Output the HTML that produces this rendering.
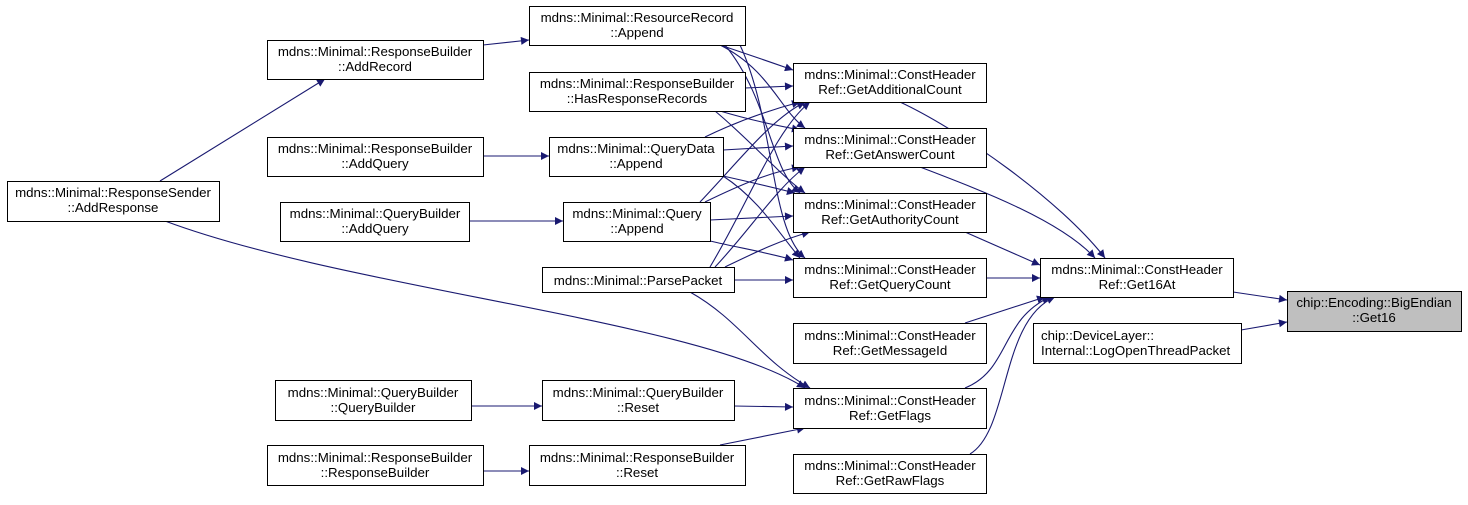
<!DOCTYPE html>
<html><head><meta charset="utf-8"><style>
body{margin:0;background:#fff;width:1468px;height:500px;overflow:hidden}
svg text{font-family:"Liberation Sans",Arial,sans-serif;font-size:13.3px;fill:#000}
</style></head><body>
<svg width="1468" height="500" viewBox="0 0 1468 500" xmlns="http://www.w3.org/2000/svg">
<defs><marker id="a" viewBox="0 0 10 10" refX="10" refY="5" markerWidth="10" markerHeight="8" markerUnits="userSpaceOnUse" orient="auto"><path d="M0,0L10,5L0,10z" fill="#191970"/></marker></defs>
<g fill="none" stroke="#191970" stroke-width="1.1" marker-end="url(#a)">
<path d="M160,181L325,79"/>
<path d="M483,45L529,40"/>
<path d="M483,156L549,156"/>
<path d="M469,221L563,221"/>
<path d="M471,406L542,406"/>
<path d="M483,471L529,471"/>
<path d="M165,221C350,290 700,320 805,388"/>
<path d="M690,292C740,320 760,360 810,388"/>
<path d="M734,406L793,407"/>
<path d="M720,445L805,428"/>
<path d="M720,45C750,55 770,62 793,70"/>
<path d="M745,88L793,86"/>
<path d="M705,137C740,120 770,110 800,102"/>
<path d="M700,202C740,160 770,120 805,102"/>
<path d="M710,267C750,200 775,130 810,102"/>
<path d="M720,45C770,70 780,110 805,128"/>
<path d="M720,111C750,120 775,125 800,130"/>
<path d="M723,150L793,146"/>
<path d="M705,202C740,185 770,172 800,167"/>
<path d="M715,267C750,230 775,190 805,167"/>
<path d="M725,45C770,100 770,170 800,193"/>
<path d="M715,111C750,140 780,175 805,193"/>
<path d="M723,176C750,182 775,188 795,193"/>
<path d="M710,220L793,216"/>
<path d="M725,267C750,255 780,240 810,232"/>
<path d="M740,45C775,120 770,230 805,258"/>
<path d="M723,176C760,200 780,235 800,258"/>
<path d="M710,241C740,248 770,253 793,260"/>
<path d="M734,280L793,280"/>
<path d="M900,102C960,130 1060,200 1105,258"/>
<path d="M920,167C980,190 1060,220 1095,258"/>
<path d="M965,232L1040,265"/>
<path d="M986,278L1040,278"/>
<path d="M965,323L1045,297"/>
<path d="M965,388C1010,370 1000,320 1050,297"/>
<path d="M970,454C1010,430 1000,320 1055,297"/>
<path d="M1233,292L1287,300"/>
<path d="M1241,330L1287,322"/>
</g>
<g fill="#fff" stroke="#000" stroke-width="1">
<rect x="7.5" y="181.5" width="212" height="40"/>
<rect x="267.5" y="40.5" width="216" height="39"/>
<rect x="529.5" y="6.5" width="216" height="39"/>
<rect x="529.5" y="72.5" width="216" height="39"/>
<rect x="267.5" y="137.5" width="216" height="39"/>
<rect x="549.5" y="137.5" width="174" height="39"/>
<rect x="280.5" y="202.5" width="189" height="39"/>
<rect x="563.5" y="202.5" width="147" height="39"/>
<rect x="542.5" y="267.5" width="192" height="25"/>
<rect x="275.5" y="380.5" width="196" height="40"/>
<rect x="542.5" y="380.5" width="192" height="40"/>
<rect x="267.5" y="445.5" width="216" height="40"/>
<rect x="529.5" y="445.5" width="216" height="40"/>
<rect x="793.5" y="63.5" width="193" height="39"/>
<rect x="793.5" y="128.5" width="193" height="39"/>
<rect x="793.5" y="193.5" width="193" height="39"/>
<rect x="793.5" y="258.5" width="193" height="39"/>
<rect x="793.5" y="323.5" width="193" height="40"/>
<rect x="793.5" y="388.5" width="193" height="40"/>
<rect x="793.5" y="454.5" width="193" height="39"/>
<rect x="1040.5" y="258.5" width="193" height="39"/>
<rect x="1033.5" y="323.5" width="208" height="40"/>
<rect x="1287.5" y="291.5" width="174" height="40" fill="#bfbfbf"/>
</g>
<g text-anchor="middle">
<text x="113" y="197">mdns::Minimal::ResponseSender</text><text x="113" y="212">::AddResponse</text>
<text x="375" y="56">mdns::Minimal::ResponseBuilder</text><text x="375" y="71">::AddRecord</text>
<text x="637" y="22">mdns::Minimal::ResourceRecord</text><text x="637" y="37">::Append</text>
<text x="637" y="88">mdns::Minimal::ResponseBuilder</text><text x="637" y="103">::HasResponseRecords</text>
<text x="375" y="153">mdns::Minimal::ResponseBuilder</text><text x="375" y="168">::AddQuery</text>
<text x="636" y="153">mdns::Minimal::QueryData</text><text x="636" y="168">::Append</text>
<text x="375" y="218">mdns::Minimal::QueryBuilder</text><text x="375" y="233">::AddQuery</text>
<text x="637" y="218">mdns::Minimal::Query</text><text x="637" y="233">::Append</text>
<text x="638" y="285">mdns::Minimal::ParsePacket</text>
<text x="373" y="397">mdns::Minimal::QueryBuilder</text><text x="373" y="412">::QueryBuilder</text>
<text x="638" y="397">mdns::Minimal::QueryBuilder</text><text x="638" y="412">::Reset</text>
<text x="375" y="462">mdns::Minimal::ResponseBuilder</text><text x="375" y="477">::ResponseBuilder</text>
<text x="637" y="462">mdns::Minimal::ResponseBuilder</text><text x="637" y="477">::Reset</text>
<text x="890" y="79">mdns::Minimal::ConstHeader</text><text x="890" y="94">Ref::GetAdditionalCount</text>
<text x="890" y="144">mdns::Minimal::ConstHeader</text><text x="890" y="159">Ref::GetAnswerCount</text>
<text x="890" y="209">mdns::Minimal::ConstHeader</text><text x="890" y="224">Ref::GetAuthorityCount</text>
<text x="890" y="274">mdns::Minimal::ConstHeader</text><text x="890" y="289">Ref::GetQueryCount</text>
<text x="890" y="340">mdns::Minimal::ConstHeader</text><text x="890" y="355">Ref::GetMessageId</text>
<text x="890" y="405">mdns::Minimal::ConstHeader</text><text x="890" y="420">Ref::GetFlags</text>
<text x="890" y="470">mdns::Minimal::ConstHeader</text><text x="890" y="485">Ref::GetRawFlags</text>
<text x="1137" y="274">mdns::Minimal::ConstHeader</text><text x="1137" y="289">Ref::Get16At</text>
<text x="1374" y="307">chip::Encoding::BigEndian</text><text x="1374" y="322">::Get16</text>
</g>
<text x="1041" y="340">chip::DeviceLayer::</text><text x="1041" y="355">Internal::LogOpenThreadPacket</text>
</svg>
</body></html>
